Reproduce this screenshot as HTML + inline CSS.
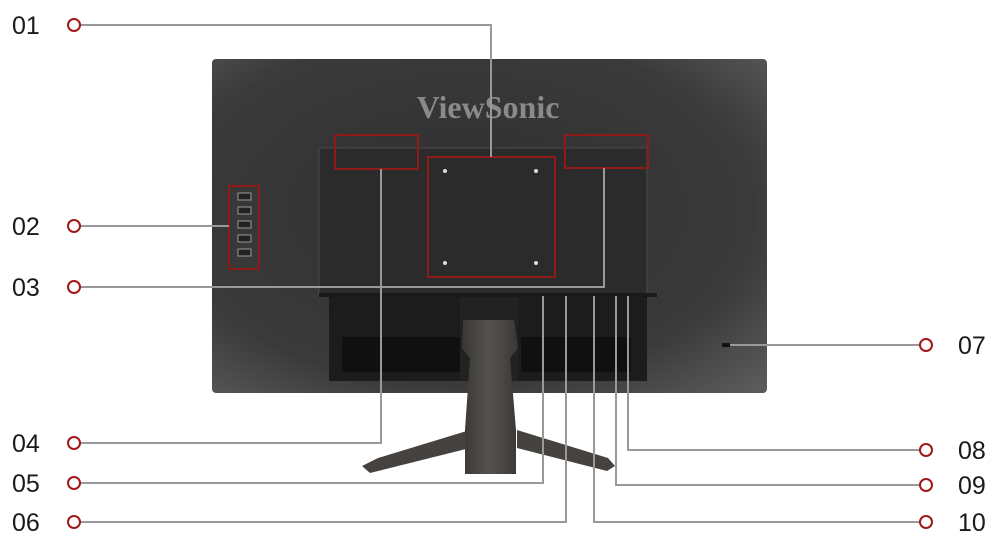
<!DOCTYPE html>
<html><head><meta charset="utf-8"><style>
html,body{margin:0;padding:0;background:#fff;}
svg{display:block;}
text{font-family:"Liberation Sans",sans-serif;font-size:25px;fill:#1a1a1a;}
</style></head><body>
<svg width="1000" height="541" viewBox="0 0 1000 541" xmlns="http://www.w3.org/2000/svg">
<defs>
<radialGradient id="bg" cx="0.45" cy="0.45" r="0.75">
<stop offset="0" stop-color="#2f2f2f"/><stop offset="0.7" stop-color="#3a3a3a"/><stop offset="1" stop-color="#5a5a5a"/>
</radialGradient>
<linearGradient id="st" x1="0" y1="0" x2="1" y2="0">
<stop offset="0" stop-color="#3a3835"/><stop offset="0.5" stop-color="#55524e"/><stop offset="1" stop-color="#3a3835"/>
</linearGradient>
</defs>
<rect x="212" y="59" width="555" height="334" rx="4" fill="url(#bg)"/>
<text x="488" y="118" text-anchor="middle" style="font-family:'Liberation Serif',serif;font-weight:bold;font-size:32px;fill:#8a8a8a">ViewSonic</text>
<rect x="319" y="148" width="328" height="147" fill="#2b2b2b" stroke="#4a4a4a" stroke-width="1"/>
<rect x="319" y="293" width="338" height="4" fill="#1a1a1a"/>
<rect x="329" y="297" width="318" height="84" fill="#1c1c1c"/>
<rect x="342" y="337" width="120" height="35" fill="#101010"/>
<rect x="521" y="337" width="110" height="35" fill="#101010"/>
<rect x="460" y="297" width="58" height="84" fill="#222"/>
<polygon points="362,466 378,458 470,430 470,448 370,473" fill="#45423f"/>
<polygon points="517,430 608,458 615,466 607,471 517,448" fill="#45423f"/>
<polygon points="463,320 514,320 518,348 510,358 516,430 516,474 465,474 465,430 470,358 462,348" fill="url(#st)"/>
<g fill="none" stroke="#8e1a1a" stroke-width="2">
<rect x="335" y="135" width="83" height="34"/>
<rect x="428" y="157" width="127" height="120"/>
<rect x="565" y="135" width="83" height="33"/>
<rect x="229" y="186" width="30" height="83"/>
</g>
<g fill="#ddd">
<circle cx="445" cy="171" r="2"/><circle cx="536" cy="171" r="2"/>
<circle cx="445" cy="263" r="2"/><circle cx="536" cy="263" r="2"/>
</g>
<g fill="#222" stroke="#999" stroke-width="1">
<rect x="238" y="193" width="13" height="7"/><rect x="238" y="207" width="13" height="7"/>
<rect x="238" y="221" width="13" height="7"/><rect x="238" y="235" width="13" height="7"/>
<rect x="238" y="249" width="13" height="7"/>
</g>
<rect x="722" y="343" width="8" height="4" fill="#111"/>
<g fill="none" stroke="#999" stroke-width="2">
<polyline points="80,25 491,25 491,157"/>
<polyline points="80,226 229,226"/>
<polyline points="80,287 604,287 604,168"/>
<polyline points="80,443 381,443 381,169"/>
<polyline points="80,483 543,483 543,296"/>
<polyline points="80,522 566,522 566,296"/>
<polyline points="730,345 920,345"/>
<polyline points="920,450 628,450 628,296"/>
<polyline points="920,485 616,485 616,296"/>
<polyline points="920,522 594,522 594,296"/>
</g>
<g fill="#fff" stroke="#a01818" stroke-width="2">
<circle cx="74" cy="25" r="6"/><circle cx="74" cy="226" r="6"/><circle cx="74" cy="287" r="6"/>
<circle cx="74" cy="443" r="6"/><circle cx="74" cy="483" r="6"/><circle cx="74" cy="522" r="6"/>
<circle cx="926" cy="345" r="6"/><circle cx="926" cy="450" r="6"/><circle cx="926" cy="485" r="6"/><circle cx="926" cy="522" r="6"/>
</g>
<text x="12" y="34">01</text>
<text x="12" y="235">02</text>
<text x="12" y="296">03</text>
<text x="12" y="452">04</text>
<text x="12" y="492">05</text>
<text x="12" y="531">06</text>
<text x="958" y="354">07</text>
<text x="958" y="459">08</text>
<text x="958" y="494">09</text>
<text x="958" y="531">10</text>
</svg>
</body></html>
